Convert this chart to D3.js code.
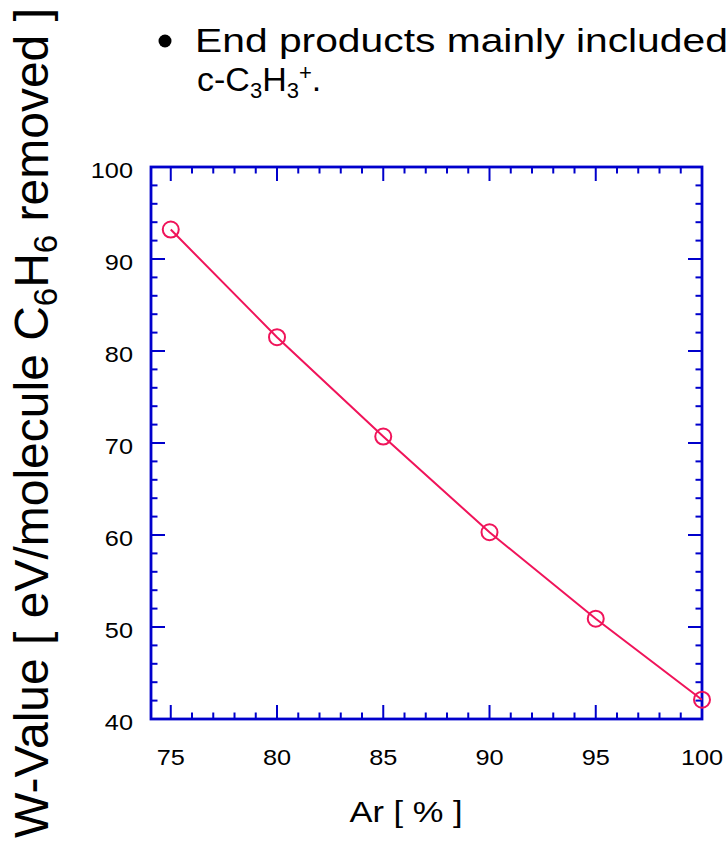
<!DOCTYPE html>
<html>
<head>
<meta charset="utf-8">
<script src="https://cdn.jsdelivr.net/npm/d3@7"></script>
<style>
  html, body { margin: 0; padding: 0; background: #fff; overflow: hidden; }
  svg { display: block; }
  text { font-family: "Liberation Sans", Arial, Helvetica, sans-serif; fill: #000; }
</style>
</head>
<body>
<script>
// Ar fraction (%) and W-value (eV per C6H6 molecule removed)
const arPercent = [75, 80, 85, 90, 95, 100];
const wValue = [93.2, 81.5, 70.7, 60.3, 50.9, 42.1];

const xMajorTicks = [75, 80, 85, 90, 95, 100];
const yMajorTicks = [40, 50, 60, 70, 80, 90, 100];

const W = 728, H = 843;
const frame = { left: 151, right: 702, top: 167, bottom: 719 };
const axisColor = "#0000cc";
const markColor = "#f0145a";
const stretch = 1.15; // horizontal stretch of the lettering

const svg = d3.select("body").append("svg")
  .attr("width", W).attr("height", H);

svg.append("rect").attr("width", W).attr("height", H).attr("fill", "#fff");

const x = d3.scaleLinear().domain([74.07, 100]).range([frame.left, frame.right]);
const y = d3.scaleLinear().domain([40, 100]).range([frame.bottom, frame.top]);

const xMinor = d3.range(75, 101, 1).filter(v => v % 5 !== 0);
const yMinor = d3.range(40, 101, 2).filter(v => v % 10 !== 0);

const MAJ = 14, MIN = 6.5;

// tick marks on all four sides, pointing into the plot
const ticks = svg.append("g").attr("stroke", axisColor).attr("stroke-width", 2);
function hTicks(vals, len) {
  vals.forEach(v => {
    ticks.append("line").attr("x1", x(v)).attr("x2", x(v))
      .attr("y1", frame.bottom).attr("y2", frame.bottom - len);
    ticks.append("line").attr("x1", x(v)).attr("x2", x(v))
      .attr("y1", frame.top).attr("y2", frame.top + len);
  });
}
function vTicks(vals, len) {
  vals.forEach(v => {
    ticks.append("line").attr("y1", y(v)).attr("y2", y(v))
      .attr("x1", frame.left).attr("x2", frame.left + len);
    ticks.append("line").attr("y1", y(v)).attr("y2", y(v))
      .attr("x1", frame.right).attr("x2", frame.right - len);
  });
}
hTicks(xMajorTicks, MAJ);
hTicks(xMinor, MIN);
vTicks(yMajorTicks, MAJ);
vTicks(yMinor, MIN);

// plot frame
svg.append("rect")
  .attr("x", frame.left).attr("y", frame.top)
  .attr("width", frame.right - frame.left).attr("height", frame.bottom - frame.top)
  .attr("fill", "none").attr("stroke", axisColor).attr("stroke-width", 2.8);

// tick labels
svg.append("g").selectAll("text").data(xMajorTicks).join("text")
  .attr("transform", d => `translate(${x(d)},765) scale(${stretch},1)`)
  .attr("text-anchor", "middle").attr("font-size", 22)
  .text(d => d);

svg.append("g").selectAll("text").data(yMajorTicks).join("text")
  .attr("transform", d => `translate(133,${y(d) + 11}) scale(${stretch},1)`)
  .attr("text-anchor", "end").attr("font-size", 22)
  .text(d => d);

// axis titles
svg.append("text")
  .attr("transform", `translate(406,822) scale(${stretch},1)`)
  .attr("text-anchor", "middle").attr("font-size", 30)
  .text("Ar [ % ]");

const yTitle = svg.append("text")
  .attr("transform", "translate(48,8) rotate(-90)")
  .attr("text-anchor", "end").attr("font-size", 48);
yTitle.append("tspan").text("W-Value [ eV/molecule C");
yTitle.append("tspan").attr("font-size", 33).attr("dy", 9).text("6");
yTitle.append("tspan").attr("dy", -9).text("H");
yTitle.append("tspan").attr("font-size", 33).attr("dy", 9).text("6");
yTitle.append("tspan").attr("dy", -9).text(" removed ]");

// bullet note
svg.append("circle").attr("cx", 165).attr("cy", 41).attr("r", 6.5).attr("fill", "#000");
svg.append("text").attr("transform", "translate(195,52) scale(1.2,1)")
  .attr("font-size", 34)
  .text("End products mainly included");
const note2 = svg.append("text").attr("transform", "translate(197,91)").attr("font-size", 34);
note2.append("tspan").text("c-C");
note2.append("tspan").attr("font-size", 22).attr("dy", 7).text("3");
note2.append("tspan").attr("dy", -7).text("H");
note2.append("tspan").attr("font-size", 22).attr("dy", 7).text("3");
note2.append("tspan").attr("font-size", 22).attr("dy", -18).text("+");
note2.append("tspan").attr("dy", 11).text(".");

// data line and open circle markers
const line = d3.line().x(d => x(d[0])).y(d => y(d[1]));
const pts = arPercent.map((a, i) => [a, wValue[i]]);

svg.append("path").datum(pts)
  .attr("d", line).attr("fill", "none")
  .attr("stroke", markColor).attr("stroke-width", 2);

svg.append("g").selectAll("circle").data(pts).join("circle")
  .attr("cx", d => x(d[0])).attr("cy", d => y(d[1]))
  .attr("r", 8).attr("fill", "none")
  .attr("stroke", markColor).attr("stroke-width", 2);
</script>
</body>
</html>
